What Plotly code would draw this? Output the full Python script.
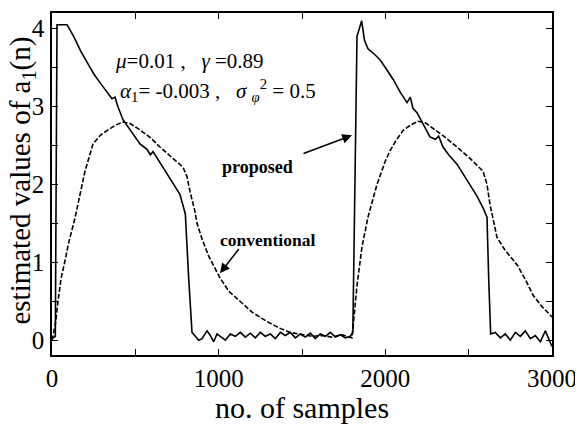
import plotly.graph_objects as go

# proposed (solid)
prop_x = [0, 20, 30, 45, 90, 130, 170, 210, 250, 290, 330, 360, 378, 395, 426, 470, 528, 570, 590, 606, 640,
          690, 730, 768, 800, 820, 840, 860, 880, 900, 930, 950, 970, 990, 1010, 1040, 1070, 1100, 1130, 1160,
          1190, 1220, 1250, 1280, 1310, 1340, 1370, 1400, 1430, 1460, 1490, 1520, 1550, 1580, 1610, 1640,
          1670, 1700, 1730, 1760, 1790, 1805, 1830, 1858, 1875, 1896, 1930, 1968, 2000, 2046, 2090, 2130,
          2150, 2165, 2190, 2230, 2268, 2300, 2320, 2346, 2380, 2430, 2470, 2508, 2550, 2586, 2610, 2620,
          2632, 2660, 2690, 2720, 2750, 2780, 2810, 2840, 2870, 2900, 2930, 2960, 2980, 3000]
prop_y = [0.02, 0.05, 4.05, 4.05, 4.05, 3.9, 3.72, 3.57, 3.42, 3.3, 3.18, 3.1, 3.12, 3.0, 2.83, 2.7, 2.52,
          2.45, 2.38, 2.42, 2.3, 2.13, 2.0, 1.87, 1.62, 0.8, 0.1, 0.05, 0.0, 0.02, 0.12, 0.06, -0.02, 0.08,
          0.05, 0.0, 0.08, 0.05, 0.1, 0.04, 0.09, 0.03, 0.1, 0.05, 0.08, 0.02, 0.1, 0.06, 0.1, 0.03, 0.08,
          0.04, 0.09, 0.02, 0.08, 0.05, 0.1, 0.04, 0.07, 0.03, 0.05, 0.1, 3.9, 4.1, 3.85, 3.74, 3.68, 3.6,
          3.5, 3.35, 3.18, 3.05, 3.12, 2.98, 2.92, 2.75, 2.61, 2.58, 2.62, 2.48, 2.38, 2.26, 2.12, 2.0, 1.85,
          1.7, 1.58, 0.8, 0.08, 0.1, 0.03, 0.08, 0.0, 0.1, 0.05, 0.12, 0.02, 0.06, -0.02, 0.12, 0.03, -0.08]

# conventional (dashed)
conv_x = [0, 20, 36, 55, 78, 100, 138, 170, 198, 246, 290, 330, 380, 426, 470, 528, 590, 648, 720, 786, 810,
          828, 858, 870, 900, 940, 1008, 1060, 1128, 1200, 1290, 1360, 1428, 1500, 1560, 1620, 1680, 1740,
          1800, 1830, 1860, 1896, 1950, 2000, 2028, 2060, 2106, 2150, 2196, 2240, 2286, 2350, 2430, 2510,
          2586, 2610, 2628, 2650, 2670, 2720, 2790, 2840, 2886, 2940, 3000]
conv_y = [0.0, 0.2, 0.5, 0.8, 1.02, 1.25, 1.57, 1.9, 2.17, 2.52, 2.63, 2.69, 2.76, 2.8, 2.78, 2.7, 2.6, 2.48,
          2.35, 2.22, 2.1, 1.91, 1.65, 1.5, 1.3, 1.08, 0.8, 0.63, 0.5, 0.36, 0.24, 0.16, 0.1, 0.07, 0.05,
          0.06, 0.04, 0.07, 0.03, 0.7, 1.2, 1.58, 2.0, 2.3, 2.43, 2.55, 2.69, 2.76, 2.81, 2.79, 2.72, 2.62,
          2.48, 2.33, 2.17, 2.0, 1.74, 1.5, 1.32, 1.15, 0.97, 0.78, 0.58, 0.43, 0.3]

x_tickvals = [0, 500, 1000, 1500, 2000, 2500, 3000]
x_ticktext = ["0", "", "1000", "", "2000", "", "3000"]
y_tickvals = [0, 0.5, 1, 1.5, 2, 2.5, 3, 3.5, 4]
y_ticktext = ["0", "", "1", "", "2", "", "3", "", "4"]

FONT = "'Liberation Serif', 'Times New Roman', serif"

fig = go.Figure()
fig.add_trace(go.Scatter(x=conv_x, y=conv_y, mode="lines",
                         line=dict(color="black", width=1.6, dash="5px,2px"), showlegend=False))
fig.add_trace(go.Scatter(x=prop_x, y=prop_y, mode="lines",
                         line=dict(color="black", width=1.6), showlegend=False))

axis_common = dict(showline=True, linecolor="black", linewidth=1.5, mirror="ticks",
                   ticks="inside", ticklen=6, tickwidth=1.2, tickcolor="black",
                   showgrid=False, zeroline=False,
                   tickfont=dict(family=FONT, size=25, color="black"))

fig.update_xaxes(range=[0, 3000], tickmode="array", tickvals=x_tickvals, ticktext=x_ticktext,
                 title=dict(text="no. of samples", font=dict(family=FONT, size=30, color="black"), standoff=4),
                 **axis_common)
fig.update_yaxes(range=[-0.19, 4.2], tickmode="array", tickvals=y_tickvals, ticktext=y_ticktext,
                 ticklabelstandoff=1, **axis_common)

# y axis title as rotated text
fig.add_annotation(x=-0.06, y=0.51, xref="paper", yref="paper", xanchor="center", yanchor="middle",
                   showarrow=False, textangle=-90, borderpad=0,
                   text="estimated values of a<sub>1</sub>(n)", font=dict(family=FONT, size=29, color="black"))

txt = dict(family=FONT, size=21, color="black")
bold = dict(family=FONT, size=18, color="black")
fig.add_annotation(x=366, y=3.59, xref="x", yref="y", xanchor="left", yanchor="middle", showarrow=False,
                   text="<i>μ</i>=0.01 ,   <i>γ</i> =0.89", font=txt)
fig.add_annotation(x=396, y=3.2, xref="x", yref="y", xanchor="left", yanchor="middle", showarrow=False,
                   text="<i>α</i><sub>1</sub>= -0.003 ,   <i>σ</i> <sub><i>φ</i></sub><sup>2</sup> = 0.5", font=txt)
fig.add_annotation(x=1230, y=2.22, xref="x", yref="y", showarrow=False, text="<b>proposed</b>", font=bold)
fig.add_annotation(x=1800, y=2.63, ax=1500, ay=2.39, xref="x", yref="y", axref="x", ayref="y",
                   showarrow=True, arrowhead=2, arrowsize=1.3, arrowwidth=1.5, arrowcolor="black", text="")
fig.add_annotation(x=1290, y=1.28, xref="x", yref="y", showarrow=False, text="<b>conventional</b>",
                   font=dict(family=FONT, size=17.5, color="black"))
fig.add_annotation(x=1008, y=0.86, ax=1128, ay=1.19, xref="x", yref="y", axref="x", ayref="y",
                   showarrow=True, arrowhead=2, arrowsize=1.3, arrowwidth=1.5, arrowcolor="black", text="")

# page body has an 8px margin, so the figure is sized/offset to land on the reference pixels
fig.update_layout(width=575, height=416, margin=dict(l=44, r=31, t=3, b=69),
                  paper_bgcolor="white", plot_bgcolor="white")

fig.write_html("out.html")
